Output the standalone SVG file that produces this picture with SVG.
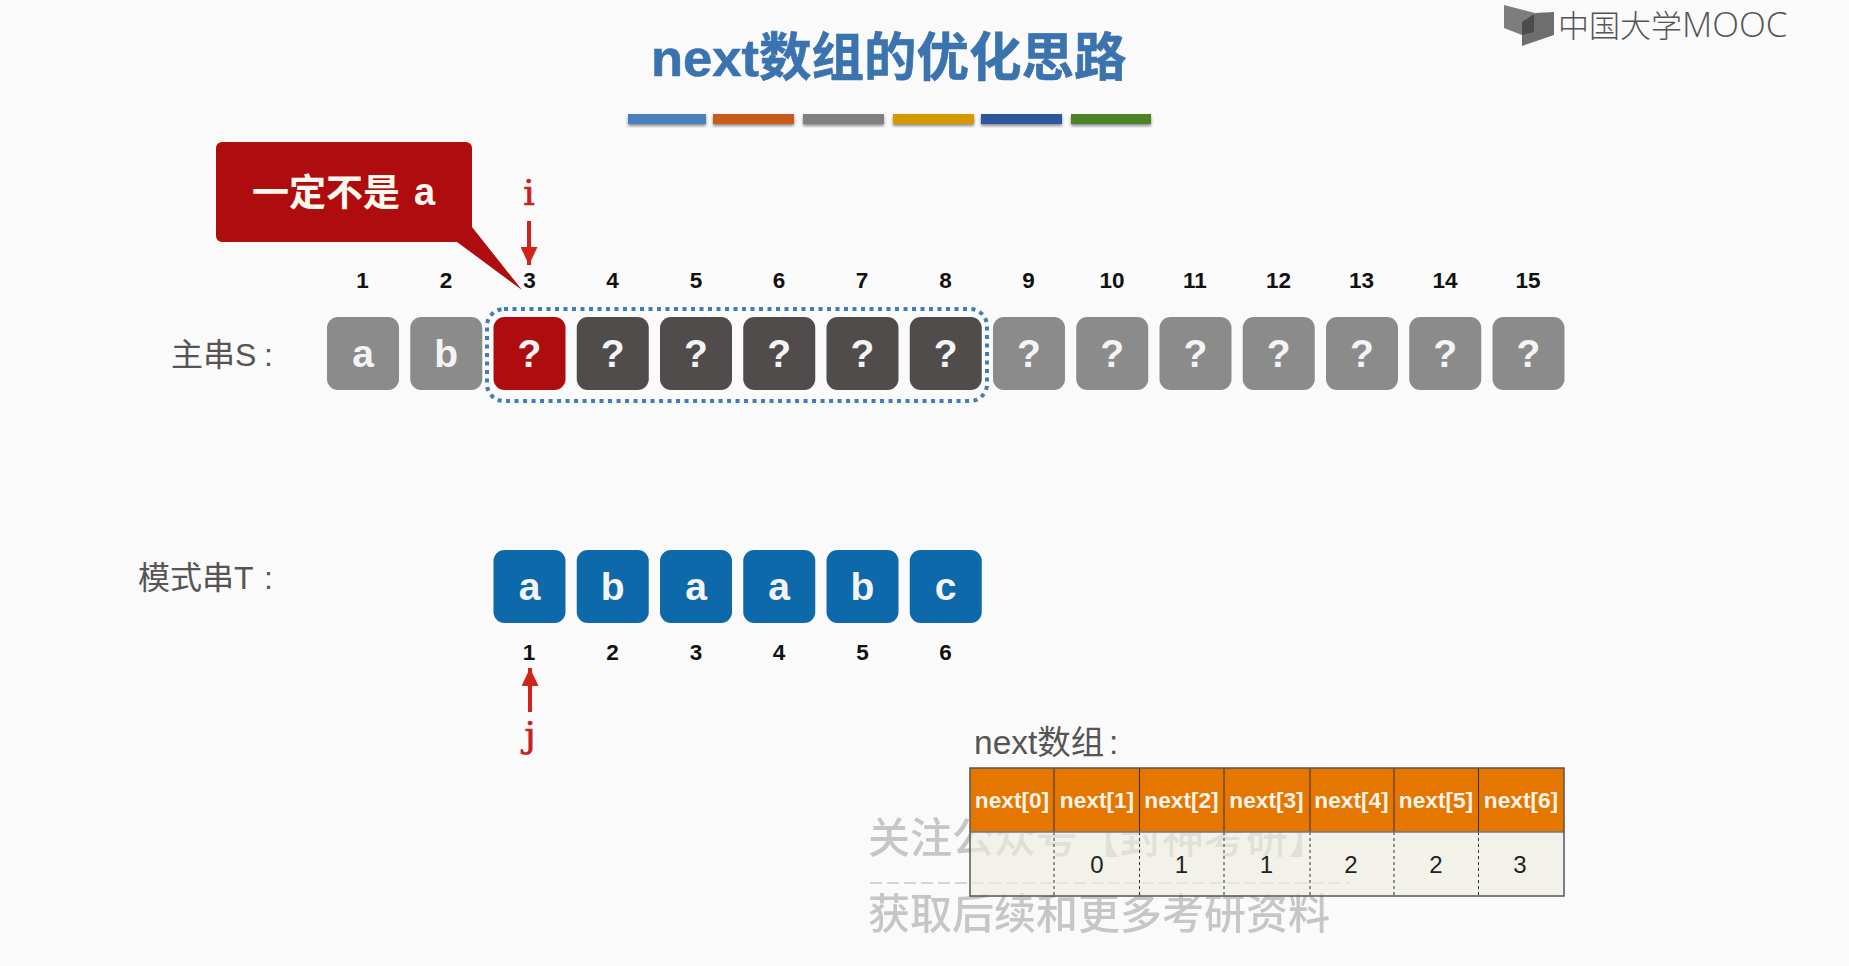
<svg xmlns="http://www.w3.org/2000/svg" width="1849" height="966" viewBox="0 0 1849 966">
<defs>
<filter id="sh" x="-5%" y="-30%" width="110%" height="170%"><feDropShadow dx="0" dy="2" stdDeviation="1.5" flood-color="#000" flood-opacity="0.45"/></filter>
<marker id="ah" viewBox="0 0 18 17" refX="18" refY="8.5" markerUnits="userSpaceOnUse" markerWidth="18" markerHeight="17" orient="auto"><path d="M0 0L18 8.5L0 17Z" fill="#d0241b"/></marker>
</defs>
<style>
text{font-family:"Liberation Sans","Noto Sans CJK SC",sans-serif}
.box{width:72px;height:73px;rx:11px}
.g{fill:#8c8b8b}.d{fill:#504c4b}.r{fill:#ae0c0e}.b{fill:#0e69ab}
.bt{font-size:39px;font-weight:700;fill:#f4f4f4;text-anchor:middle}
.n{font-size:22.5px;font-weight:700;fill:#111;text-anchor:middle}
.lab{font-size:32px;fill:#555}
.ptr{font-family:"DejaVu Serif",serif;font-size:36px;fill:#c9201c;stroke:#c9201c;stroke-width:.7;text-anchor:middle}
.arrow{stroke:#d0241b;stroke-width:4;fill:none;marker-end:url(#ah)}
.th{font-size:22.7px;font-weight:700;fill:#fbf4ea;text-anchor:middle}
.td{font-size:24px;fill:#222;text-anchor:middle}
.cl{stroke:#333;stroke-width:1}
.dl{stroke:#333;stroke-width:1;stroke-dasharray:3 3}
.wm{font-family:"Noto Sans CJK SC",sans-serif;font-size:42px;font-weight:500;fill:#a4a4a4;opacity:.6}
</style>
<rect width="1849" height="966" fill="#fafafa"/>

<g id="logo">
<path d="M1504 5L1535 13L1522 27V35L1504 28Z" fill="#7d7d7d"/>
<path d="M1554 12V35L1522 46V27L1535 13Z" fill="#6e6e6e"/>
<path d="M1534 14L1522 22V35L1534 32Z" fill="#4c4c4c"/>
<text x="1558" y="37" font-size="31" font-weight="300" fill="#555" style="font-family:'Noto Sans CJK SC',sans-serif">中国大学<tspan font-size="35" style="font-family:'Open Sans',sans-serif">MOOC</tspan></text>
</g>

<g id="title">
<text x="651" y="76" font-size="52.5" font-weight="700" fill="#3a73ae" stroke="#3a73ae" stroke-width=".6">next数组的优化思路</text>
<g filter="url(#sh)">
<rect x="628" y="114" width="78" height="10" fill="#4a7fbd"/>
<rect x="713" y="114" width="81" height="10" fill="#c95c1e"/>
<rect x="803" y="114" width="81" height="10" fill="#808080"/>
<rect x="893" y="114" width="81" height="10" fill="#d69a00"/>
<rect x="981" y="114" width="81" height="10" fill="#2d579f"/>
<rect x="1071" y="114" width="80" height="10" fill="#4c8328"/>
</g>
</g>

<g id="label-s"><text class="lab" x="171" y="366">主串S<tspan x="264">:</tspan></text></g>
<g id="label-t"><text class="lab" x="138" y="589">模式串T<tspan x="264">:</tspan></text></g>

<g id="s-indices">
<text class="n" x="362.5" y="288">1</text><text class="n" x="446" y="288">2</text><text class="n" x="529.5" y="288">3</text><text class="n" x="612.5" y="288">4</text><text class="n" x="696" y="288">5</text><text class="n" x="779" y="288">6</text><text class="n" x="862" y="288">7</text><text class="n" x="945.5" y="288">8</text><text class="n" x="1028.5" y="288">9</text><text class="n" x="1112" y="288">10</text><text class="n" x="1195" y="288">11</text><text class="n" x="1278.5" y="288">12</text><text class="n" x="1361.5" y="288">13</text><text class="n" x="1445" y="288">14</text><text class="n" x="1528" y="288">15</text>
</g>

<g id="s1"><rect class="box g" x="327" y="317"/><text class="bt" x="363" y="367">a</text></g>
<g id="s2"><rect class="box g" x="410.25" y="317"/><text class="bt" x="446.2" y="367">b</text></g>
<g id="s3"><rect class="box r" x="493.5" y="317"/><text class="bt" x="529.5" y="367">?</text></g>
<g id="s4"><rect class="box d" x="576.75" y="317"/><text class="bt" x="612.7" y="367">?</text></g>
<g id="s5"><rect class="box d" x="660" y="317"/><text class="bt" x="696" y="367">?</text></g>
<g id="s6"><rect class="box d" x="743.25" y="317"/><text class="bt" x="779.2" y="367">?</text></g>
<g id="s7"><rect class="box d" x="826.5" y="317"/><text class="bt" x="862.5" y="367">?</text></g>
<g id="s8"><rect class="box d" x="909.75" y="317"/><text class="bt" x="945.7" y="367">?</text></g>
<g id="s9"><rect class="box g" x="993" y="317"/><text class="bt" x="1029" y="367">?</text></g>
<g id="s10"><rect class="box g" x="1076.25" y="317"/><text class="bt" x="1112.2" y="367">?</text></g>
<g id="s11"><rect class="box g" x="1159.5" y="317"/><text class="bt" x="1195.5" y="367">?</text></g>
<g id="s12"><rect class="box g" x="1242.75" y="317"/><text class="bt" x="1278.7" y="367">?</text></g>
<g id="s13"><rect class="box g" x="1326" y="317"/><text class="bt" x="1362" y="367">?</text></g>
<g id="s14"><rect class="box g" x="1409.25" y="317"/><text class="bt" x="1445.2" y="367">?</text></g>
<g id="s15"><rect class="box g" x="1492.5" y="317"/><text class="bt" x="1528.5" y="367">?</text></g>

<g id="window"><rect x="487" y="309" width="500" height="92" rx="17" fill="none" stroke="#3f7cb8" stroke-width="4" stroke-dasharray="4 4.5"/></g>

<g id="callout">
<path d="M222 142H466a6 6 0 0 1 6 6V227L522 290L457 242H222a6 6 0 0 1-6-6V148a6 6 0 0 1 6-6Z" fill="#ae0c0e"/>
<text x="252" y="206" font-size="37" font-weight="700" fill="#fdf8ee" style="font-family:'Noto Sans CJK SC',sans-serif">一定不是 <tspan x="414" y="205" style="font-family:'Liberation Sans',sans-serif" font-size="38">a</tspan></text>
</g>

<g id="pointer-i"><text class="ptr" x="529" y="205">i</text></g>
<g id="pointer-j"><text class="ptr" x="530" y="747">j</text></g>
<g id="connectors">
<line class="arrow" x1="529" y1="221" x2="529" y2="265"/>
<line class="arrow" x1="530" y1="712" x2="530" y2="668"/>
</g>

<g id="t1"><rect class="box b" x="493.5" y="550"/><text class="bt" x="529.5" y="600">a</text></g>
<g id="t2"><rect class="box b" x="576.75" y="550"/><text class="bt" x="612.7" y="600">b</text></g>
<g id="t3"><rect class="box b" x="660" y="550"/><text class="bt" x="696" y="600">a</text></g>
<g id="t4"><rect class="box b" x="743.25" y="550"/><text class="bt" x="779.2" y="600">a</text></g>
<g id="t5"><rect class="box b" x="826.5" y="550"/><text class="bt" x="862.5" y="600">b</text></g>
<g id="t6"><rect class="box b" x="909.75" y="550"/><text class="bt" x="945.7" y="600">c</text></g>
<g id="t-indices">
<text class="n" x="529" y="660">1</text><text class="n" x="612.5" y="660">2</text><text class="n" x="696" y="660">3</text><text class="n" x="779" y="660">4</text><text class="n" x="862.5" y="660">5</text><text class="n" x="945.5" y="660">6</text>
</g>

<g id="watermark">
<text class="wm" x="868" y="853">关注公众号【封神考研】</text>
<line x1="870" y1="883" x2="1350" y2="883" stroke="#a8a8a8" stroke-width="1.5" stroke-dasharray="12 5" opacity=".6"/>
<text class="wm" x="868" y="929">获取后续和更多考研资料</text>
</g>

<g id="next-table">
<text class="lab" x="974" y="754" style="font-size:33.5px">next数组<tspan x="1109">:</tspan></text>
<rect x="970" y="768" width="594" height="64" fill="#e57700"/>
<rect x="970" y="832" width="594" height="64" fill="#f0eee2" fill-opacity=".65"/>
<g>
<line class="cl" x1="1054" y1="768" x2="1054" y2="832"/><line class="cl" x1="1139.5" y1="768" x2="1139.5" y2="832"/><line class="cl" x1="1224" y1="768" x2="1224" y2="832"/><line class="cl" x1="1310" y1="768" x2="1310" y2="832"/><line class="cl" x1="1394" y1="768" x2="1394" y2="832"/><line class="cl" x1="1478.5" y1="768" x2="1478.5" y2="832"/>
<line class="dl" x1="1054" y1="832" x2="1054" y2="896"/><line class="dl" x1="1139.5" y1="832" x2="1139.5" y2="896"/><line class="dl" x1="1224" y1="832" x2="1224" y2="896"/><line class="dl" x1="1310" y1="832" x2="1310" y2="896"/><line class="dl" x1="1394" y1="832" x2="1394" y2="896"/><line class="dl" x1="1478.5" y1="832" x2="1478.5" y2="896"/>
<line x1="970" y1="832" x2="1564" y2="832" stroke="#6a7a90" stroke-width="1.5"/>
<rect x="970" y="768" width="594" height="128" fill="none" stroke="#555" stroke-width="1.5"/>
</g>
<text class="th" x="1012" y="808">next[0]</text><text class="th" x="1097" y="808">next[1]</text><text class="th" x="1181.5" y="808">next[2]</text><text class="th" x="1266.5" y="808">next[3]</text><text class="th" x="1351.5" y="808">next[4]</text><text class="th" x="1436" y="808">next[5]</text><text class="th" x="1521" y="808">next[6]</text>
<text class="td" x="1097" y="873">0</text><text class="td" x="1181.5" y="873">1</text><text class="td" x="1266.5" y="873">1</text><text class="td" x="1351" y="873">2</text><text class="td" x="1436" y="873">2</text><text class="td" x="1520" y="873">3</text>
</g>
</svg>
